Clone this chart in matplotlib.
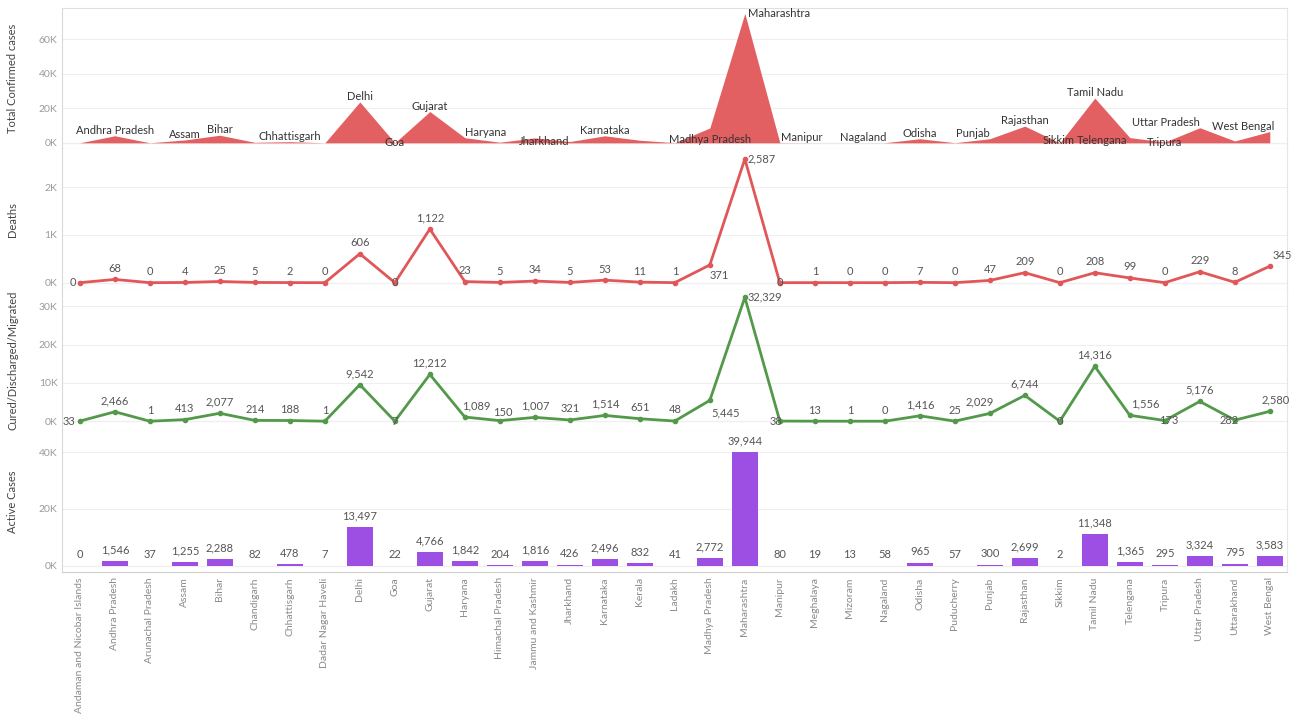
import numpy as np
import matplotlib.pyplot as plt
from matplotlib.ticker import FuncFormatter

plt.rcParams['font.family'] = ['Lato', 'DejaVu Sans']

# state-wise covid data
states = ['Andaman and Nicobar Islands', 'Andhra Pradesh', 'Arunachal Pradesh', 'Assam',
          'Bihar', 'Chandigarh', 'Chhattisgarh', 'Dadar Nagar Haveli', 'Delhi', 'Goa',
          'Gujarat', 'Haryana', 'Himachal Pradesh', 'Jammu and Kashmir', 'Jharkhand',
          'Karnataka', 'Kerala', 'Ladakh', 'Madhya Pradesh', 'Maharashtra', 'Manipur',
          'Meghalaya', 'Mizoram', 'Nagaland', 'Odisha', 'Puducherry', 'Punjab',
          'Rajasthan', 'Sikkim', 'Tamil Nadu', 'Telengana', 'Tripura', 'Uttar Pradesh',
          'Uttarakhand', 'West Bengal']

confirmed = [33, 4080, 38, 1672, 4390, 301, 668, 8, 23645, 29, 18100, 2954, 359, 2857,
             752, 4063, 1494, 90, 8588, 74860, 118, 33, 14, 58, 2388, 82, 2376, 9652, 2,
             25872, 3020, 468, 8729, 1085, 6508]
deaths = [0, 68, 0, 4, 25, 5, 2, 0, 606, 0, 1122, 23, 5, 34, 5, 53, 11, 1, 371, 2587,
          0, 1, 0, 0, 7, 0, 47, 209, 0, 208, 99, 0, 229, 8, 345]
cured = [33, 2466, 1, 413, 2077, 214, 188, 1, 9542, 7, 12212, 1089, 150, 1007, 321, 1514,
         651, 48, 5445, 32329, 38, 13, 1, 0, 1416, 25, 2029, 6744, 0, 14316, 1556, 173,
         5176, 282, 2580]
active = [0, 1546, 37, 1255, 2288, 82, 478, 7, 13497, 22, 4766, 1842, 204, 1816, 426,
          2496, 832, 41, 2772, 39944, 80, 19, 13, 58, 965, 57, 300, 2699, 2, 11348, 1365,
          295, 3324, 795, 3583]

# which states get a name label on the area chart
area_labels = ['Andhra Pradesh', 'Assam', 'Bihar', 'Chhattisgarh', 'Delhi', 'Goa',
               'Gujarat', 'Haryana', 'Jharkhand', 'Karnataka', 'Madhya Pradesh',
               'Maharashtra', 'Manipur', 'Nagaland', 'Odisha', 'Punjab', 'Rajasthan',
               'Sikkim', 'Tamil Nadu', 'Telengana', 'Tripura', 'Uttar Pradesh', 'West Bengal']

RED = '#e15759'
GREEN = '#53994a'
PURPLE = '#9e4fe3'

x = np.arange(len(states))

fig = plt.figure(figsize=(12.99, 7.21), dpi=100)
gs = fig.add_gridspec(4, 1, left=0.048, right=0.991, top=0.989, bottom=0.207, hspace=0)
axes = [fig.add_subplot(gs[i]) for i in range(4)]

kfmt = FuncFormatter(lambda v, p: '%dK' % round(v / 1000))

for ax in axes:
    ax.set_xlim(-0.5, len(states) - 0.5)
    ax.spines['top'].set_visible(False)
    ax.spines['left'].set_color('#d9d9d9')
    ax.spines['bottom'].set_color('#cfcfcf')
    ax.spines['right'].set_color('#e6e6e6')
    ax.tick_params(length=0, labelsize=7.5, colors='#9a9a9a')
    ax.yaxis.set_major_formatter(kfmt)
    ax.grid(axis='y', color='#efefef', lw=0.8)
    ax.set_axisbelow(True)
    ax.set_xticks(x)
    ax.tick_params(axis='x', labelbottom=False)
    ax.yaxis.set_label_coords(-0.036, 0.5)
    ax.axhline(0, color='#e3e3e3', lw=0.8, zorder=0)
axes[0].spines['top'].set_visible(True)
axes[0].spines['top'].set_color('#e0e0e0')


def ylab(ax, txt):
    ax.set_ylabel(txt, fontsize=8, color='#444444')


# --- panel 1: total confirmed (area)
ax = axes[0]
ax.fill_between(x, 0, confirmed, color=RED, lw=0, alpha=0.95)
ax.set_ylim(-3500, 78000)
ax.set_yticks([0, 20000, 40000, 60000])
ylab(ax, 'Total Confirmed cases')

# (dx pt, dy pt, ha, va)
area_pos = {
    'Goa': (0, 0, 'center', 'center'),
    'Haryana': (0, 0, 'left', 'bottom'),
    'Jharkhand': (0, 0, 'right', 'center'),
    'Madhya Pradesh': (0, -8.6, 'center', 'center'),
    'Maharashtra': (2, 0, 'left', 'center'),
    'Manipur': (1, 0, 'left', 'bottom'),
    'Nagaland': (1, 0, 'right', 'bottom'),
    'Punjab': (0, 0, 'right', 'bottom'),
    'Sikkim': (-1, 1.4, 'center', 'center'),
    'Telengana': (-2, -2, 'right', 'center'),
    'Tripura': (0, 0, 'center', 'center'),
    'Uttar Pradesh': (0, 0, 'right', 'bottom'),
    'West Bengal': (3, 0, 'right', 'bottom'),
}
for name in area_labels:
    i = states.index(name)
    dx, dy, ha, va = area_pos.get(name, (0, 0, 'center', 'bottom'))
    ax.annotate(name, (x[i], confirmed[i]), xytext=(dx, dy), textcoords='offset points',
                ha=ha, va=va, fontsize=8, color='#333333')


def value_labels(ax, vals, pos):
    for i, v in enumerate(vals):
        dx, dy, ha, va = pos.get(i, (0, 4, 'center', 'bottom'))
        ax.annotate(f'{v:,}', (x[i], v), xytext=(dx, dy), textcoords='offset points',
                    ha=ha, va=va, fontsize=8, color='#555555', zorder=5)


# --- panel 2: deaths
ax = axes[1]
ax.plot(x, deaths, color=RED, lw=2, marker='o', ms=3)
ax.set_ylim(-150, 2800)
ax.set_yticks([0, 1000, 2000])
ylab(ax, 'Deaths')
value_labels(ax, deaths, {
    0: (-3, 0, 'right', 'center'),
    9: (0, 0, 'center', 'center'),
    18: (7, -7.5, 'center', 'center'),
    19: (2, 0, 'left', 'center'),
    20: (0, 0, 'center', 'center'),
    34: (9, 4, 'center', 'bottom'),
})

# --- panel 3: cured
ax = axes[2]
ax.plot(x, cured, color=GREEN, lw=2, marker='o', ms=3)
ax.set_ylim(-2500, 34300)
ax.set_yticks([0, 10000, 20000, 30000])
ylab(ax, 'Cured/Discharged/Migrated')
value_labels(ax, cured, {
    0: (-3, 0, 'right', 'center'),
    9: (0, 0, 'center', 'center'),
    11: (8, 4, 'center', 'bottom'),
    12: (2, 2, 'center', 'bottom'),
    18: (11, -9, 'center', 'center'),
    19: (2, 0, 'left', 'center'),
    20: (2, 0, 'right', 'center'),
    26: (-7, 4, 'center', 'bottom'),
    28: (0, 0, 'center', 'center'),
    30: (11, 4, 'center', 'bottom'),
    31: (3, 0, 'center', 'center'),
    33: (-4, 0, 'center', 'center'),
    34: (4, 4, 'center', 'bottom'),
})

# --- panel 4: active (bars)
ax = axes[3]
ax.bar(x, active, width=0.75, color=PURPLE)
ax.set_ylim(-2100, 47500)
ax.set_yticks([0, 20000, 40000])
ylab(ax, 'Active Cases')
value_labels(ax, active, {})

ax.tick_params(axis='x', labelbottom=True, pad=4)
ax.set_xticklabels(states, rotation=90, fontsize=7.5, color='#8a8a8a', va='top')

plt.savefig('out.png', dpi=100)
